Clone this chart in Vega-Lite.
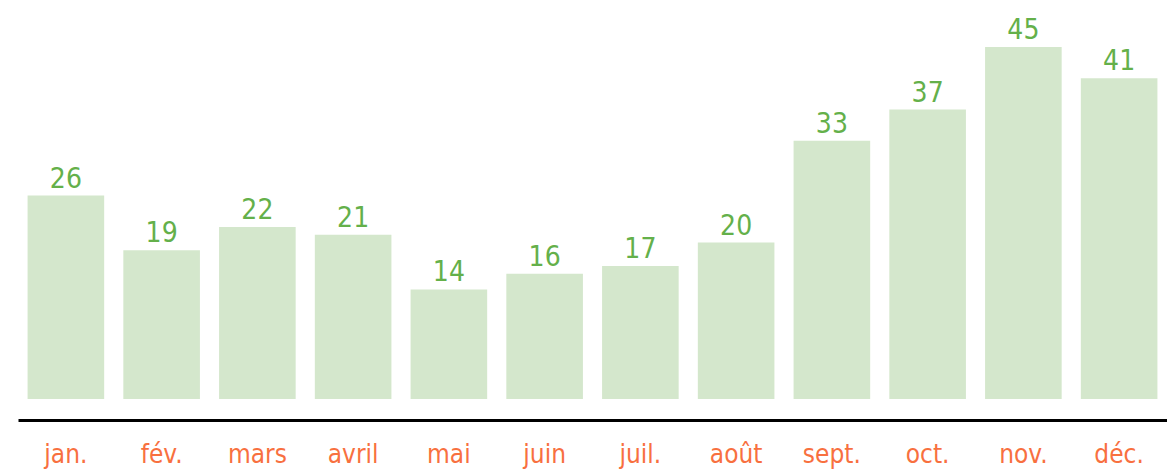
{
  "$schema": "https://vega.github.io/schema/vega-lite/v6.json",
  "autosize": "none",
  "width": 1149,
  "height": 399,
  "padding": {"left": 18, "top": 0, "right": 0, "bottom": 73},
  "background": "white",
  "config": {"view": {"stroke": null}},
  "data": {"values": [
    {"mois": "jan.", "valeur": 26},
    {"mois": "fév.", "valeur": 19},
    {"mois": "mars", "valeur": 22},
    {"mois": "avril", "valeur": 21},
    {"mois": "mai", "valeur": 14},
    {"mois": "juin", "valeur": 16},
    {"mois": "juil.", "valeur": 17},
    {"mois": "août", "valeur": 20},
    {"mois": "sept.", "valeur": 33},
    {"mois": "oct.", "valeur": 37},
    {"mois": "nov.", "valeur": 45},
    {"mois": "déc.", "valeur": 41}
  ]},
  "encoding": {
    "x": {
      "field": "mois", "type": "nominal", "sort": null,
      "scale": {"paddingInner": 0.2, "paddingOuter": 0.1},
      "axis": {
        "title": null, "orient": "bottom", "offset": 21,
        "domain": true, "domainColor": "#000000", "domainWidth": 3,
        "ticks": false, "grid": false, "labelAngle": 0,
        "labelFont": "DejaVu Sans Condensed",
        "labelFontSize": 26, "labelColor": "#f8703f",
        "labelBaseline": "alphabetic", "labelPadding": 42
      }
    },
    "y": {
      "field": "valeur", "type": "quantitative",
      "scale": {"domain": [0, 51], "nice": false, "zero": true},
      "axis": null
    }
  },
  "layer": [
    {"mark": {"type": "bar", "color": "#d4e7cc"}},
    {
      "mark": {
        "type": "text", "baseline": "alphabetic", "dy": -8,
        "font": "DejaVu Sans Condensed",
        "fontSize": 28, "color": "#64b04a"
      },
      "encoding": {"text": {"field": "valeur", "type": "quantitative"}}
    }
  ]
}
